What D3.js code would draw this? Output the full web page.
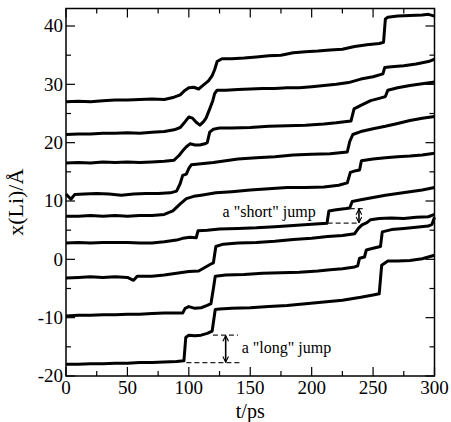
<!DOCTYPE html>
<html>
<head>
<meta charset="utf-8">
<script src="https://cdn.jsdelivr.net/npm/d3@7"></script>
<style>
  body { margin: 0; background: #fff; }
</style>
</head>
<body>
<div id="chart"></div>
<script>
const width = 451;
const height = 422;

const margin = { left: 66, right: 16, top: 8.5, bottom: 46 };
const serif = 'Liberation Serif, DejaVu Serif, serif';

// trajectories [t (ps), x(Li) (Å)], top to bottom
const traj1 = [[0,27.0],[10,27.1],[20,27.0],[30,27.2],[40,27.3],[50,27.3],[60,27.4],[70,27.5],[80,27.4],[88,27.8],[93,28.2],[97,29.0],[100,29.4],[104,29.5],[108,29.2],[112,29.9],[116,30.6],[119,31.5],[121,32.5],[123,33.9],[127,34.4],[135,34.4],[145,34.5],[155,34.7],[165,34.9],[175,35.0],[185,35.4],[195,35.6],[205,35.7],[215,35.9],[225,36.0],[235,36.5],[245,36.8],[255,37.0],[258.5,37.2],[260,41.2],[262,41.5],[270,41.7],[280,41.8],[290,41.9],[295,42.0],[300,41.7]];
const traj2 = [[0,21.4],[10,21.5],[20,21.5],[30,21.6],[40,21.6],[50,21.7],[60,21.6],[70,21.8],[80,21.9],[88,22.2],[93,22.6],[97,23.6],[100,24.4],[103,24.2],[106,23.5],[109,23.0],[112,23.6],[114,24.2],[117,25.8],[119.5,27.2],[121,28.4],[123,29.0],[130,29.0],[140,29.1],[150,29.2],[160,29.3],[170,29.3],[180,29.4],[190,29.4],[200,29.6],[210,29.8],[220,30.0],[230,30.3],[240,30.9],[250,31.3],[258,31.8],[259.5,32.9],[265,33.0],[275,33.2],[285,33.5],[295,33.9],[300,34.3]];
const traj3 = [[0,16.5],[10,16.6],[20,16.5],[30,16.7],[40,16.6],[50,16.7],[60,16.6],[70,16.7],[80,16.8],[88,17.0],[92,17.8],[95,18.6],[98,19.3],[101,19.8],[105,19.6],[109,19.6],[113,19.8],[115,20.0],[117,21.8],[120,22.3],[125,22.5],[135,22.5],[150,22.6],[165,22.8],[180,22.9],[195,23.0],[210,23.2],[220,23.4],[232,23.7],[234.5,25.8],[240,26.4],[248,27.2],[255,27.6],[260,27.9],[262,29.0],[270,29.4],[280,29.8],[290,30.1],[300,30.4]];
const traj4 = [[0,11.2],[4,10.3],[7,11.1],[15,11.2],[25,11.3],[35,11.2],[45,11.0],[55,11.2],[65,11.3],[75,11.3],[85,11.4],[90,11.7],[93,13.0],[95,14.4],[98,14.6],[100,15.6],[102,16.2],[110,16.4],[120,16.6],[130,16.9],[140,17.2],[155,17.4],[170,17.6],[185,17.9],[200,18.0],[215,18.1],[229,18.4],[231,20.2],[233.5,21.4],[240,21.9],[250,22.4],[260,22.8],[270,23.3],[280,23.8],[290,24.2],[300,24.5]];
const traj5 = [[0,7.4],[10,7.4],[20,7.5],[30,7.4],[40,7.5],[50,7.4],[60,7.5],[70,7.5],[80,7.7],[87,8.3],[93,9.5],[98,10.4],[104,10.8],[110,11.0],[122,11.4],[135,11.6],[150,11.9],[165,12.1],[180,12.3],[195,12.3],[210,12.4],[222,12.7],[229,13.1],[231.5,14.9],[236,15.2],[239,15.3],[240.5,16.9],[250,17.2],[260,17.4],[270,17.6],[280,17.7],[290,17.9],[300,18.2]];
const traj6 = [[0,2.8],[10,2.9],[20,2.8],[30,2.9],[40,2.9],[50,2.9],[60,2.8],[70,2.8],[80,3.0],[90,3.3],[95,3.6],[101,3.8],[106,3.7],[107.5,4.9],[115,5.0],[125,5.2],[140,5.3],[155,5.4],[170,5.6],[185,5.8],[200,6.0],[212.5,6.2],[214,8.3],[220,8.5],[228,8.7],[231,8.8],[233,9.9],[240,10.2],[250,10.6],[260,11.0],[270,11.3],[280,11.6],[290,11.9],[300,12.3]];
const traj7 = [[0,-3.2],[10,-3.1],[20,-3.0],[30,-3.1],[40,-3.0],[50,-3.1],[55,-3.6],[58,-2.9],[70,-2.9],[80,-2.7],[90,-2.4],[100,-2.1],[108,-2.0],[113,-1.4],[118,-0.8],[120,-0.6],[122,2.2],[128,2.6],[140,2.8],[155,2.9],[170,3.1],[185,3.4],[200,3.6],[213,3.9],[225,4.1],[235,4.4],[238,5.3],[241,5.9],[245,6.3],[248,6.8],[255,7.0],[265,7.1],[275,7.0],[285,7.2],[295,7.3],[300,7.7]];
const traj8 = [[0,-9.7],[10,-9.6],[20,-9.6],[30,-9.5],[40,-9.5],[50,-9.4],[60,-9.4],[70,-9.3],[80,-9.2],[90,-9.2],[95,-9.2],[97,-8.4],[100,-8.1],[105,-8.4],[110,-8.3],[115,-7.9],[118,-7.6],[120,-5.0],[121.5,-2.9],[130,-2.7],[145,-2.6],[160,-2.4],[175,-2.3],[190,-2.2],[205,-2.0],[215,-1.8],[225,-1.6],[235,-1.3],[237.5,-1.1],[239,0.2],[243,0.4],[244.5,1.6],[250,1.9],[256,2.2],[257.5,4.7],[265,5.1],[275,5.3],[285,5.5],[295,5.7],[298,6.0],[300,7.2]];
const traj9 = [[0,-18.0],[10,-18.0],[20,-17.9],[30,-17.9],[40,-17.8],[50,-17.8],[60,-17.7],[70,-17.7],[80,-17.6],[90,-17.5],[96,-17.4],[97.5,-13.4],[100,-13.0],[105,-13.1],[110,-13.0],[115,-12.7],[119,-12.3],[121.5,-8.6],[125,-8.5],[135,-8.4],[150,-8.3],[165,-8.1],[180,-7.9],[195,-7.6],[210,-7.3],[225,-7.0],[240,-6.5],[250,-6.1],[255,-5.9],[257,-1.0],[262,-0.3],[270,-0.3],[280,-0.2],[290,0.1],[300,0.7]];

const trajectories = [traj1, traj2, traj3, traj4, traj5, traj6, traj7, traj8, traj9];

const xDomain = [0, 300];
const yDomain = [-20, 43];
const xTicks = [0, 50, 100, 150, 200, 250, 300];
const yTicks = [-20, -10, 0, 10, 20, 30, 40];
const xMinor = [25, 75, 125, 175, 225, 275];
const yMinor = [-15, -5, 5, 15, 25, 35];

// annotations: [t, x] in data units
const shortJump = { label: 'a "short" jump', text: [127.5, 7.2], base: [213, 237, 6.2], top: [231, 243, 8.7], arrowT: 238.5 };
const longJump = { label: 'a "long" jump', text: [143, -16.1], base: [98, 141.5, -17.7], top: [119.6, 140, -13.0], arrowT: 130 };

const svg = d3.select('#chart')
  .append('svg')
    .attr('width', width)
    .attr('height', height)
    .attr('font-family', serif);

const x = d3.scaleLinear().domain(xDomain).range([margin.left, width - margin.right - 0.5]);
const y = d3.scaleLinear().domain(yDomain).range([height - margin.bottom, margin.top]);

const defs = svg.append('defs');
defs.append('marker')
  .attr('id', 'head')
  .attr('viewBox', '0 0 10 10')
  .attr('refX', 9).attr('refY', 5)
  .attr('markerWidth', 7).attr('markerHeight', 7)
  .attr('markerUnits', 'userSpaceOnUse')
  .attr('orient', 'auto-start-reverse')
  .append('path')
    .attr('d', 'M1,1 L9,5 L1,9')
    .attr('fill', 'none')
    .attr('stroke', '#000')
    .attr('stroke-width', 1.6);

// trajectories
const line = d3.line().x(d => x(d[0])).y(d => y(d[1]));
svg.append('g')
  .selectAll('path')
  .data(trajectories)
  .join('path')
    .attr('d', line)
    .attr('fill', 'none')
    .attr('stroke', '#000')
    .attr('stroke-width', 3)
    .attr('stroke-linejoin', 'round');

// annotations
[shortJump, longJump].forEach(a => {
  const g = svg.append('g');
  [a.base, a.top].forEach(s => {
    g.append('line')
      .attr('x1', x(s[0])).attr('x2', x(s[1]))
      .attr('y1', y(s[2])).attr('y2', y(s[2]))
      .attr('stroke', '#222')
      .attr('stroke-width', 1.2)
      .attr('stroke-dasharray', '5,3');
  });
  g.append('line')
    .attr('x1', x(a.arrowT)).attr('x2', x(a.arrowT))
    .attr('y1', y(a.top[2]) + 0.5).attr('y2', y(a.base[2]) - 0.5)
    .attr('stroke', '#000')
    .attr('stroke-width', 1.6)
    .attr('marker-start', 'url(#head)')
    .attr('marker-end', 'url(#head)');
  g.append('text')
    .attr('x', x(a.text[0]))
    .attr('y', y(a.text[1]))
    .attr('font-size', 16)
    .text(a.label);
});

// frame and inward ticks on all four sides
const x0 = x(xDomain[0]), x1 = x(xDomain[1]);
const y0 = y(yDomain[0]), y1 = y(yDomain[1]);
const ticks = svg.append('g').attr('stroke', '#000').attr('stroke-width', 1.2);

function tickX(v, len) {
  ticks.append('line').attr('x1', x(v)).attr('x2', x(v)).attr('y1', y0).attr('y2', y0 - len);
  ticks.append('line').attr('x1', x(v)).attr('x2', x(v)).attr('y1', y1).attr('y2', y1 + len);
}
function tickY(v, len) {
  ticks.append('line').attr('y1', y(v)).attr('y2', y(v)).attr('x1', x0).attr('x2', x0 + len);
  ticks.append('line').attr('y1', y(v)).attr('y2', y(v)).attr('x1', x1).attr('x2', x1 - len);
}
xTicks.forEach(v => tickX(v, 9));
xMinor.forEach(v => tickX(v, 5));
yTicks.forEach(v => tickY(v, 9));
yMinor.forEach(v => tickY(v, 5));

svg.append('rect')
  .attr('x', x0).attr('y', y1)
  .attr('width', x1 - x0).attr('height', y0 - y1)
  .attr('fill', 'none')
  .attr('stroke', '#000')
  .attr('stroke-width', 1.5);

// tick labels
svg.append('g')
  .selectAll('text')
  .data(xTicks)
  .join('text')
    .attr('x', d => x(d))
    .attr('y', y0 + 18)
    .attr('text-anchor', 'middle')
    .attr('font-size', 19)
    .text(d => d);

svg.append('g')
  .selectAll('text')
  .data(yTicks)
  .join('text')
    .attr('x', x0 - 3)
    .attr('y', d => y(d))
    .attr('dy', '0.34em')
    .attr('text-anchor', 'end')
    .attr('font-size', 19)
    .text(d => d);

// axis titles
svg.append('text')
  .attr('x', (x0 + x1) / 2)
  .attr('y', 418)
  .attr('text-anchor', 'middle')
  .attr('font-size', 20)
  .text('t/ps');

svg.append('text')
  .attr('transform', `translate(23, ${(y0 + y1) / 2 + 10}) rotate(-90)`)
  .attr('text-anchor', 'middle')
  .attr('font-size', 22)
  .text('x(Li)/Å');
</script>
</body>
</html>
